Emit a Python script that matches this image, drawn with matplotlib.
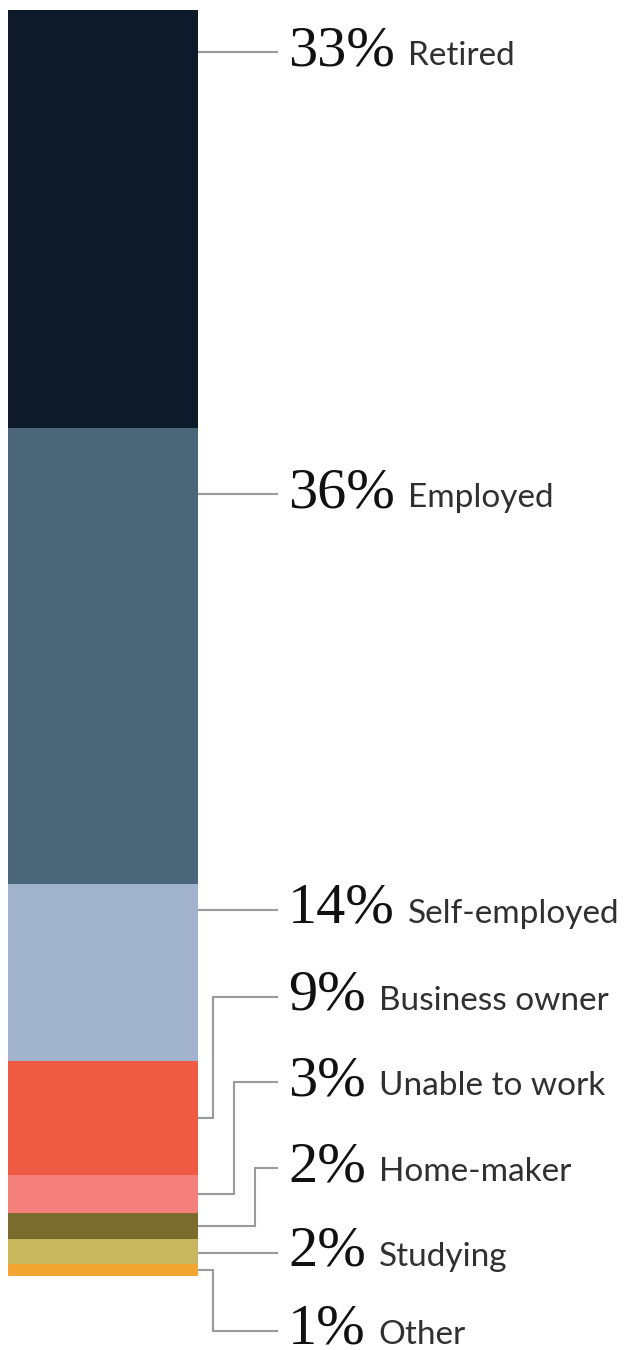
import matplotlib
matplotlib.use("Agg")
import matplotlib.pyplot as plt

# employment status shares (percent), top to bottom of the bar
categories = ["Retired", "Employed", "Self-employed", "Business owner",
              "Unable to work", "Home-maker", "Studying", "Other"]
shares = [33, 36, 14, 9, 3, 2, 2, 1]
colors = ["#0c1a29", "#4b6678", "#a1b3cc", "#ef5a42",
          "#f57f7a", "#7a6c2d", "#c8b75c", "#f2a531"]

# label rows (pixels from top) and elbow offsets for the leader lines
label_rows = [52, 494, 910, 997, 1082, 1168, 1253, 1331]
elbow_x = [None, None, None, 213, 234, 255, None, 213]

W, H = 635, 1350
bar_left, bar_right = 8, 198
bar_top, bar_bottom = 10, 1276.5
line_end = 278
text_x = 288

fig = plt.figure(figsize=(W / 100, H / 100), dpi=100)
ax = fig.add_axes([0, 0, 1, 1])
ax.set_xlim(0, W)
# y axis in percent; 0% sits at bar_top, 100% at bar_bottom
scale = (bar_bottom - bar_top) / 100.0
ax.set_ylim((H - bar_top) / scale, -bar_top / scale)
ax.axis("off")

def px(y):
    return (y - bar_top) / scale

# stacked bar
bottom = 0
bounds = []
for val, col in zip(shares, colors):
    ax.bar(bar_left, val, width=bar_right - bar_left, bottom=bottom,
           color=col, align="edge", linewidth=0)
    bounds.append((bottom, bottom + val))
    bottom += val

renderer = fig.canvas.get_renderer()
leader_col = "#9a9a9c"
for i, (cat, val) in enumerate(zip(categories, shares)):
    lo, hi = bounds[i]
    row = px(label_rows[i])
    if lo <= row <= hi:
        ax.plot([bar_right, line_end], [row, row], color=leader_col,
                lw=1.5, solid_capstyle="butt")
    else:
        mid = (lo + hi) / 2
        ex = elbow_x[i]
        ax.plot([bar_right, ex, ex, line_end], [mid, mid, row, row],
                color=leader_col, lw=1.5, solid_capstyle="butt",
                solid_joinstyle="miter")
    base = px(label_rows[i] + 13)
    t = ax.text(text_x, base, f"{val}%", family="Liberation Serif",
                fontsize=42, color="#111111", va="baseline", ha="left")
    w = t.get_window_extent(renderer).width
    ax.text(text_x + w + 13, base, cat, family="Lato",
            fontsize=24, color="#303030", va="baseline", ha="left")

fig.savefig("out.png", dpi=100)
